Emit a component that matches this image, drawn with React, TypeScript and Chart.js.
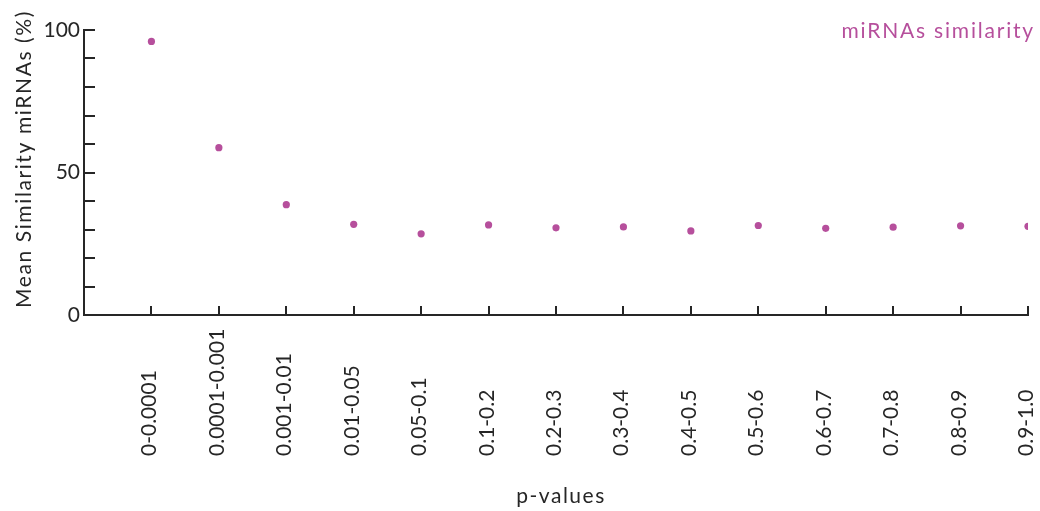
import React, { useEffect, useRef } from "react";
import { Chart, registerables } from "chart.js";

Chart.register(...registerables);

// p-value bins along the x axis
const categories = [
  "0-0.0001",
  "0.0001-0.001",
  "0.001-0.01",
  "0.01-0.05",
  "0.05-0.1",
  "0.1-0.2",
  "0.2-0.3",
  "0.3-0.4",
  "0.4-0.5",
  "0.5-0.6",
  "0.6-0.7",
  "0.7-0.8",
  "0.8-0.9",
  "0.9-1.0",
];

// mean miRNA similarity (%) per bin
const similarity = [96.0, 58.7, 38.7, 31.8, 28.5, 31.6, 30.6, 30.9, 29.5, 31.4, 30.4, 30.8, 31.3, 31.1];

// y axis range, minor tick step and labelled tick step
const yMin = 0;
const yMax = 100;
const yStep = 10;
const yLabelStep = 50;

const seriesLabel = "miRNAs similarity";
const xTitle = "p-values";
const yTitle = "Mean Similarity miRNAs (%)";

const POINT_COLOR = "#b64f9c";
const AXIS_COLOR = "#262626";
const TEXT_COLOR = "#262626";
const FONT_FAMILY = "Lato, 'Liberation Sans', sans-serif";
const FONT_SIZE = 21;

// Inward tick marks, rotated category labels, axis titles and the series caption
const axisDecor = {
  id: "axisDecor",
  afterDraw(chart: any) {
    const { ctx, chartArea, scales } = chart;
    const xs = scales.x;
    const ys = scales.y;
    ctx.save();

    // tick marks pointing into the plot
    ctx.strokeStyle = AXIS_COLOR;
    ctx.lineWidth = 2;
    ctx.beginPath();
    ys.ticks.forEach((t: any) => {
      const py = Math.round(ys.getPixelForValue(t.value));
      ctx.moveTo(chartArea.left, py);
      ctx.lineTo(chartArea.left + 11, py);
    });
    categories.forEach((_, i) => {
      const px = Math.round(xs.getPixelForValue(i));
      ctx.moveTo(px, chartArea.bottom);
      ctx.lineTo(px, chartArea.bottom - 9);
    });
    ctx.stroke();

    ctx.fillStyle = TEXT_COLOR;
    ctx.font = `${FONT_SIZE}px ${FONT_FAMILY}`;
    ctx.textBaseline = "alphabetic";

    // category labels, reading upward, starting from a common baseline
    categories.forEach((label, i) => {
      const px = xs.getPixelForValue(i);
      ctx.save();
      ctx.translate(px + 5, 456);
      ctx.rotate(-Math.PI / 2);
      ctx.textAlign = "left";
      ctx.fillText(label, 0, 0);
      ctx.restore();
    });

    // x axis title
    (ctx as any).letterSpacing = "1.5px";
    ctx.textAlign = "center";
    ctx.fillText(xTitle, (chartArea.left + chartArea.right) / 2 + 5, 503);

    // y axis title
    (ctx as any).letterSpacing = "1.6px";
    ctx.save();
    ctx.translate(31, 159);
    ctx.rotate(-Math.PI / 2);
    ctx.textAlign = "center";
    ctx.fillText(yTitle, 0, 0);
    ctx.restore();

    // series caption, top right
    (ctx as any).letterSpacing = "1.8px";
    ctx.fillStyle = POINT_COLOR;
    ctx.textAlign = "right";
    ctx.fillText(chart.data.datasets[0].label, chart.width - 5, 38);

    ctx.restore();
  },
};

export default function App() {
  const canvasRef = useRef<HTMLCanvasElement | null>(null);

  useEffect(() => {
    if (!canvasRef.current) return;
    const chart = new Chart(canvasRef.current, {
      type: "scatter",
      data: {
        datasets: [
          {
            label: seriesLabel,
            data: similarity.map((v, i) => ({ x: i, y: v })),
            backgroundColor: POINT_COLOR,
            borderColor: POINT_COLOR,
            borderWidth: 0,
            pointRadius: 3.6,
            showLine: false,
          },
        ],
      },
      options: {
        animation: false,
        responsive: true,
        maintainAspectRatio: false,
        layout: { padding: { left: 0, top: 30, right: 12, bottom: 0 } },
        plugins: {
          legend: { display: false },
          tooltip: { enabled: false },
        },
        scales: {
          x: {
            type: "linear",
            min: -1,
            max: categories.length - 1,
            grid: { display: false },
            border: { display: true, color: AXIS_COLOR, width: 2 },
            ticks: { display: false, stepSize: 1 },
            afterFit: (scale: any) => {
              scale.height = 196;
            },
          },
          y: {
            min: yMin,
            max: yMax,
            grid: { display: false, drawTicks: false },
            border: { display: true, color: AXIS_COLOR, width: 2 },
            ticks: {
              stepSize: yStep,
              padding: 4,
              color: TEXT_COLOR,
              font: { family: FONT_FAMILY, size: FONT_SIZE },
              callback: (v: any) => (Number(v) % yLabelStep === 0 ? String(v) : ""),
            },
            afterFit: (scale: any) => {
              scale.width = 84;
            },
          },
        },
      },
      plugins: [axisDecor],
    });
    return () => chart.destroy();
  }, []);

  return (
    <div style={{ position: "fixed", left: 0, top: 0, width: 1040, height: 511 }}>
      <canvas ref={canvasRef} />
    </div>
  );
}
